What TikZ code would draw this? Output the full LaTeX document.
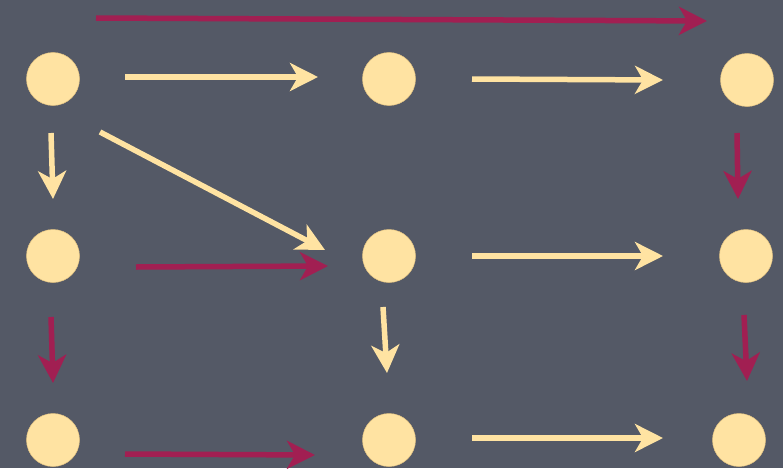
\documentclass[tikz,border=0pt]{standalone}
\usepackage{xcolor}
\usepackage{tikz}
\usetikzlibrary{arrows.meta,positioning}

\definecolor{slate}{HTML}{545966}
\definecolor{cream}{HTML}{FFE3A2}
\definecolor{creamedge}{HTML}{E6C583}
\definecolor{wine}{HTML}{A11F52}

\begin{document}
\begin{tikzpicture}[
  x=1pt, y=-1pt,
  dot/.style={circle, fill=cream, draw=creamedge, line width=0.5pt, minimum size=53pt, inner sep=0pt},
  light/.style={-{Stealth[length=28pt, width=28pt, inset=8pt]}, line width=5.5pt, draw=cream, color=cream},
  dark/.style={-{Stealth[length=28pt, width=28pt, inset=8pt]}, line width=5.5pt, draw=wine, color=wine}
]
  % background
  \fill[slate] (0,0) rectangle (783,468);

  % states
  \node[dot] (a1) at (53,79) {};
  \node[dot] (b1) at (389,79) {};
  \node[dot] (c1) at (747,80) {};
  \node[dot] (a2) at (53,256) {};
  \node[dot] (b2) at (389,256) {};
  \node[dot] (c2) at (746,256) {};
  \node[dot] (a3) at (53,440) {};
  \node[dot] (b3) at (389,440) {};
  \node[dot] (c3) at (739,440) {};

  % arrow ends
  \coordinate (top-s) at (96,18);    \coordinate (top-e) at (707,21);
  \coordinate (ab1-s) at (125,77);   \coordinate (ab1-e) at (318,77);
  \coordinate (bc1-s) at (472,79);   \coordinate (bc1-e) at (663,80);
  \coordinate (a12-s) at (51,133);   \coordinate (a12-e) at (53,199);
  \coordinate (diag-s) at (100,132); \coordinate (diag-e) at (325,250);
  \coordinate (c12-s) at (737,133);  \coordinate (c12-e) at (738,199);
  \coordinate (ab2-s) at (136,267);  \coordinate (ab2-e) at (328,266);
  \coordinate (bc2-s) at (472,256);  \coordinate (bc2-e) at (663,256);
  \coordinate (a23-s) at (51,317);   \coordinate (a23-e) at (53,383);
  \coordinate (b23-s) at (383,307);  \coordinate (b23-e) at (387,373);
  \coordinate (c23-s) at (744,315);  \coordinate (c23-e) at (747,381);
  \coordinate (ab3-s) at (125,454);  \coordinate (ab3-e) at (315,455);
  \coordinate (bc3-s) at (472,438);  \coordinate (bc3-e) at (663,438);

  % light arrows
  \draw[light] (ab1-s) -- (ab1-e);
  \draw[light] (bc1-s) -- (bc1-e);
  \draw[light] (a12-s) -- (a12-e);
  \draw[light] (diag-s) -- (diag-e);
  \draw[light] (bc2-s) -- (bc2-e);
  \draw[light] (b23-s) -- (b23-e);
  \draw[light] (bc3-s) -- (bc3-e);

  % dark arrows
  \draw[dark] (top-s) -- (top-e);
  \draw[dark] (c12-s) -- (c12-e);
  \draw[dark] (ab2-s) -- (ab2-e);
  \draw[dark] (a23-s) -- (a23-e);
  \draw[dark] (c23-s) -- (c23-e);
  \draw[dark] (ab3-s) -- (ab3-e);
\end{tikzpicture}
\end{document}
